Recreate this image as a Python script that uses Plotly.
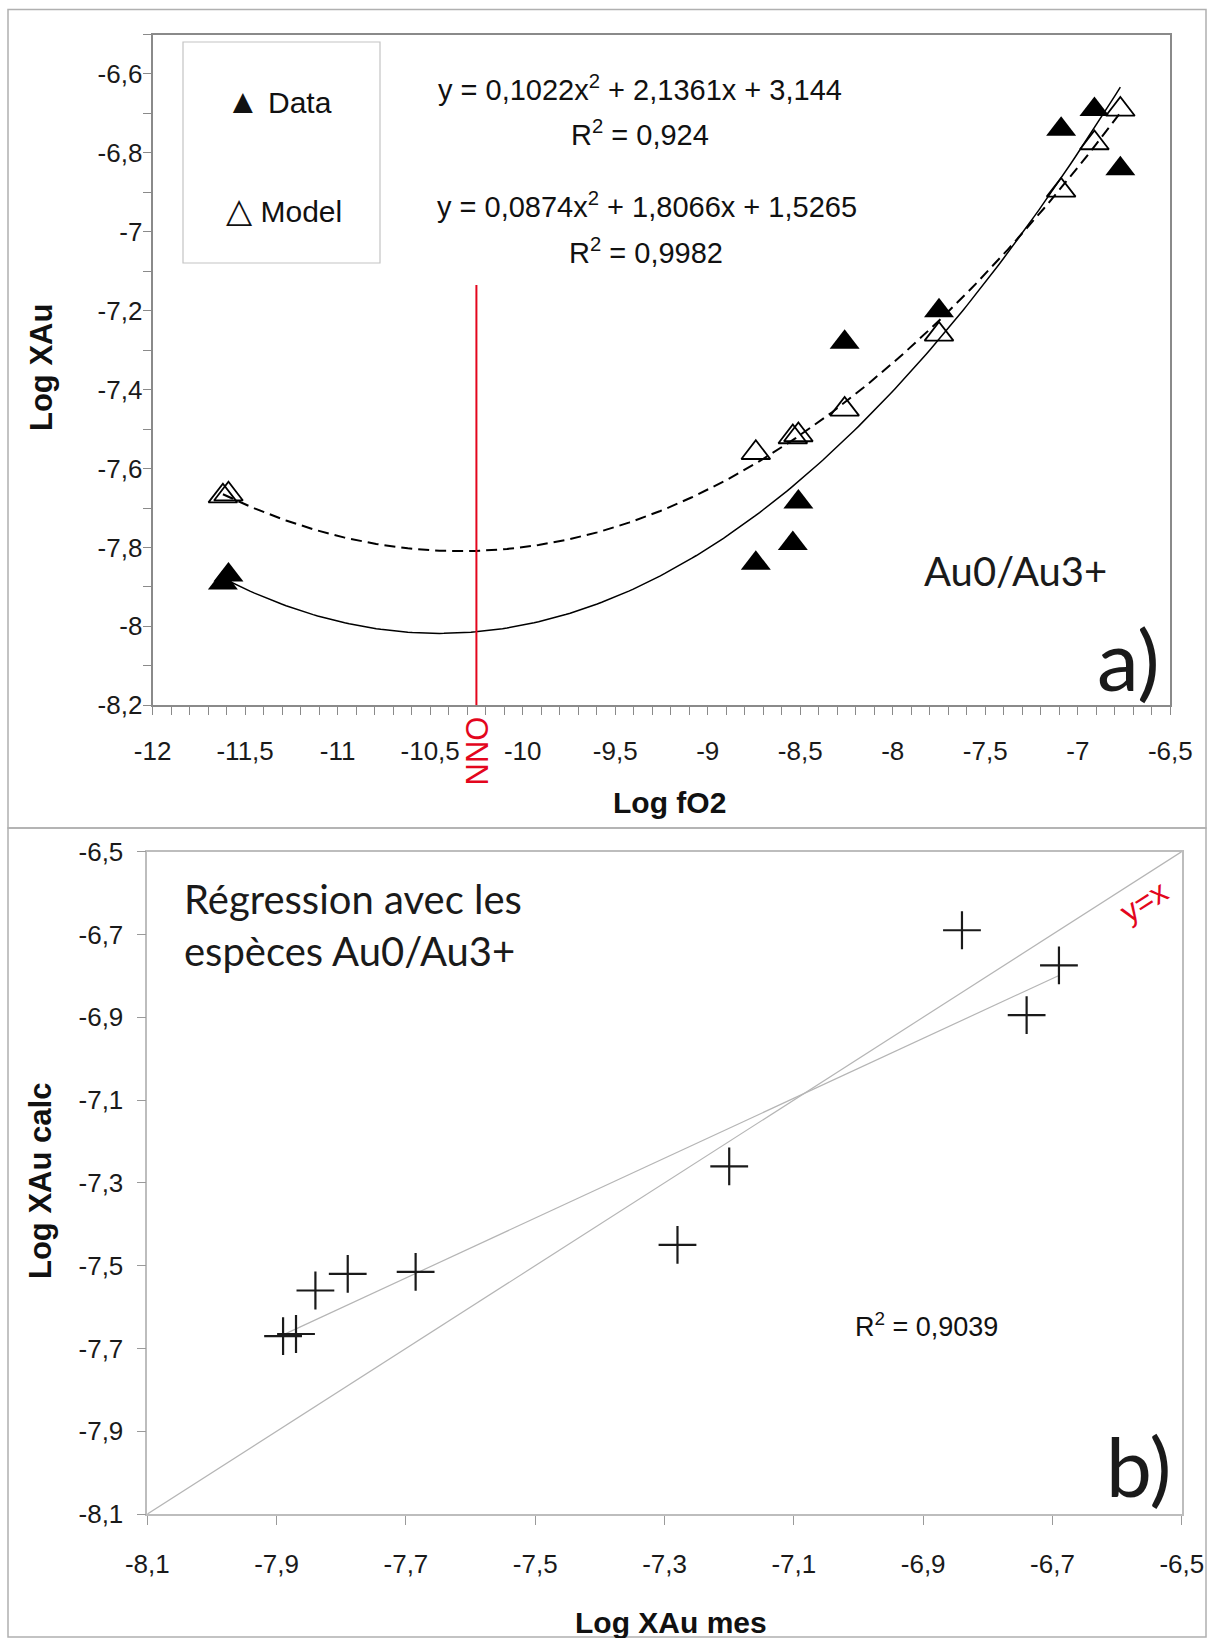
import numpy as np
import plotly.graph_objects as go

W, H = 1210, 1638

# ---------------- data (panel a) ----------------
log_fO2 = [-11.62, -11.59, -8.74, -8.54, -8.51, -8.26, -7.75, -7.09, -6.91, -6.77]
logXAu_data = [-7.89, -7.87, -7.84, -7.79, -7.685, -7.28, -7.20, -6.74, -6.69, -6.84]
logXAu_model = [-7.67, -7.665, -7.56, -7.52, -7.515, -7.45, -7.26, -6.895, -6.775, -6.69]

fit_data_coef = [0.1022, 2.1361, 3.144]
fit_model_coef = [0.0874, 1.8066, 1.5265]
fit_data_label = "y = 0,1022x<sup>2</sup> + 2,1361x + 3,144"
fit_data_r2 = "R<sup>2</sup> = 0,924"
fit_model_label = "y = 0,0874x<sup>2</sup> + 1,8066x + 1,5265"
fit_model_r2 = "R<sup>2</sup> = 0,9982"

NNO_x = -10.25
NNO_top = -7.135

a_xticks = [-12, -11.5, -11, -10.5, -10, -9.5, -9, -8.5, -8, -7.5, -7, -6.5]
a_xticklabels = ["-12", "-11,5", "-11", "-10,5", "-10", "-9,5", "-9", "-8,5", "-8", "-7,5", "-7", "-6,5"]
a_yticks = [-8.2, -8.0, -7.8, -7.6, -7.4, -7.2, -7.0, -6.8, -6.6]
a_yticklabels = ["-8,2", "-8", "-7,8", "-7,6", "-7,4", "-7,2", "-7", "-6,8", "-6,6"]

# ---------------- data (panel b) ----------------
b_mes = logXAu_data
b_calc = logXAu_model
b_r2 = "R<sup>2</sup> = 0,9039"
b_ticks = [-8.1, -7.9, -7.7, -7.5, -7.3, -7.1, -6.9, -6.7, -6.5]
b_ticklabels = ["-8,1", "-7,9", "-7,7", "-7,5", "-7,3", "-7,1", "-6,9", "-6,7", "-6,5"]

# ---------------- helpers ----------------
def px(x):
    return x / W

def py(y):
    return 1 - y / H

NUM_FONT = "Liberation Sans, Arial, DejaVu Sans, sans-serif"
MYR_FONT = "Lato, Open Sans, sans-serif"
RED = "#e3061d"
TICK_SIZE = 26

fig = go.Figure()

# trend curves panel a
xs = np.linspace(min(log_fO2), max(log_fO2), 200)
fig.add_trace(go.Scatter(x=xs, y=np.polyval(fit_data_coef, xs), mode="lines",
                         line=dict(color="black", width=1.5), xaxis="x", yaxis="y",
                         showlegend=False, hoverinfo="skip"))
fig.add_trace(go.Scatter(x=xs, y=np.polyval(fit_model_coef, xs), mode="lines",
                         line=dict(color="black", width=2, dash="11px,6px"), xaxis="x", yaxis="y",
                         showlegend=False, hoverinfo="skip"))
# points panel a
fig.add_trace(go.Scatter(x=log_fO2, y=logXAu_model, mode="markers", name="Model",
                         marker=dict(symbol="triangle-up-open", size=25, color="black",
                                     line=dict(width=1.8, color="black")),
                         xaxis="x", yaxis="y", showlegend=False))
fig.add_trace(go.Scatter(x=log_fO2, y=logXAu_data, mode="markers", name="Data",
                         marker=dict(symbol="triangle-up", size=26, color="black",
                                     line=dict(width=0)),
                         xaxis="x", yaxis="y", showlegend=False))

# panel b: y=x and regression
yx = [b_ticks[0], b_ticks[-1]]
fig.add_trace(go.Scatter(x=yx, y=yx, mode="lines", line=dict(color="#b5b5b5", width=1.2),
                         xaxis="x2", yaxis="y2", showlegend=False, hoverinfo="skip"))
slope, icpt = np.polyfit(b_mes, b_calc, 1)
xr = np.array([min(b_mes), max(b_mes)])
fig.add_trace(go.Scatter(x=xr, y=slope * xr + icpt, mode="lines", line=dict(color="#b5b5b5", width=1.2),
                         xaxis="x2", yaxis="y2", showlegend=False, hoverinfo="skip"))
fig.add_trace(go.Scatter(x=b_mes, y=b_calc, mode="markers",
                         marker=dict(symbol="cross-thin-open", size=27, color="#1a1a1a",
                                     line=dict(width=2.2, color="#1a1a1a")),
                         xaxis="x2", yaxis="y2", showlegend=False))

axis_common = dict(showgrid=False, zeroline=False, ticks="outside", showline=True, mirror=True)

fig.update_layout(
    width=W, height=H, margin=dict(l=0, r=0, t=0, b=0),
    paper_bgcolor="white", plot_bgcolor="white", showlegend=False,
    separators=", ",
    xaxis=dict(domain=[px(152.6), px(1170.3)], range=[-12, -6.5], anchor="y",
               tickvals=a_xticks, ticktext=a_xticklabels,
               linecolor="#8a8a8a", linewidth=2, tickcolor="#8a8a8a", ticklen=8, tickwidth=1,
               minor=dict(tick0=-12, dtick=0.1, ticks="outside", ticklen=8, tickcolor="#8a8a8a"),
               tickfont=dict(family=NUM_FONT, size=TICK_SIZE, color="#1a1a1a"), ticklabelstandoff=13,
               automargin=False, **axis_common),
    yaxis=dict(domain=[py(705.3), py(34.5)], range=[-8.2, -6.5], anchor="x",
               tickvals=a_yticks, ticktext=a_yticklabels,
               linecolor="#8a8a8a", linewidth=2, tickcolor="#8a8a8a", ticklen=8, tickwidth=1,
               minor=dict(tick0=-8.2, dtick=0.1, ticks="outside", ticklen=8, tickcolor="#8a8a8a"),
               tickfont=dict(family=NUM_FONT, size=TICK_SIZE, color="#1a1a1a"), ticklabelstandoff=-5,
               automargin=False, **axis_common),
    xaxis2=dict(domain=[px(147.3), px(1181.8)], range=[-8.1, -6.5], anchor="y2",
                tickvals=b_ticks, ticktext=b_ticklabels,
                linecolor="#bdbdbd", linewidth=1.5, tickcolor="#9a9a9a", ticklen=9, tickwidth=1,
                tickfont=dict(family=NUM_FONT, size=TICK_SIZE, color="#1a1a1a"), ticklabelstandoff=17,
                automargin=False, **axis_common),
    yaxis2=dict(domain=[py(1514.1), py(851.6)], range=[-8.1, -6.5], anchor="x2",
                tickvals=b_ticks, ticktext=b_ticklabels,
                linecolor="#bdbdbd", linewidth=1.5, tickcolor="#9a9a9a", ticklen=9, tickwidth=1,
                tickfont=dict(family=NUM_FONT, size=TICK_SIZE, color="#1a1a1a"), ticklabelstandoff=8,
                automargin=False, **axis_common),
)

shapes = [
    # outer frames
    dict(type="rect", xref="paper", yref="paper", x0=px(8), x1=px(1206), y0=py(828), y1=py(9.5),
         line=dict(color="#b0b0b0", width=1.5), fillcolor="rgba(0,0,0,0)", layer="below"),
    dict(type="rect", xref="paper", yref="paper", x0=px(8), x1=px(1206), y0=py(1637), y1=py(828),
         line=dict(color="#b0b0b0", width=1.5), fillcolor="rgba(0,0,0,0)", layer="below"),
    # legend box
    dict(type="rect", xref="paper", yref="paper", x0=px(183), x1=px(380), y0=py(263), y1=py(42),
         line=dict(color="#c4c4c4", width=1.2), fillcolor="white"),
    # NNO line
    dict(type="line", xref="x", yref="y", x0=NNO_x, x1=NNO_x, y0=-8.2, y1=NNO_top,
         line=dict(color=RED, width=2)),
]
fig.update_layout(shapes=shapes)

def ann(text, x, y, size, family=NUM_FONT, color="#111", xanchor="center", angle=0, bold=False):
    if bold:
        text = "<b>" + text + "</b>"
    return dict(text=text, x=px(x), y=py(y), xref="paper", yref="paper", showarrow=False,
                xanchor=xanchor, yanchor="middle", textangle=angle,
                font=dict(family=family, size=size, color=color))

annotations = [
    ann('<span style="font-size:34px">▲</span> Data', 224, 101, 30, xanchor="left"),
    ann('<span style="font-size:34px">△</span> Model', 224, 210, 30, xanchor="left"),
    ann(fit_data_label, 640, 88, 29),
    ann(fit_data_r2, 640, 133, 29),
    ann(fit_model_label, 647, 205, 29),
    ann(fit_model_r2, 646, 251, 29),
    ann("Au0/Au3+", 1015, 571, 40, family=MYR_FONT, color="#1a1a1a"),
    ann("a)", 1128, 658, 84, family=MYR_FONT, color="#1a1a1a"),
    ann("NNO", 477.5, 751, 31, color=RED, angle=-90),
    ann("Log XAu", 42, 368, 31, bold=True, angle=-90),
    ann("Log fO2", 669, 802, 30, bold=True),
    ann("Régression avec les", 182, 899, 40, family=MYR_FONT, color="#1a1a1a", xanchor="left"),
    ann("espèces Au0/Au3+", 182, 951, 40, family=MYR_FONT, color="#1a1a1a", xanchor="left"),
    ann("y=x", 1144, 901, 31, color=RED, angle=-32.6),
    ann(b_r2, 926, 1325, 27),
    ann("b)", 1138, 1465, 82, family=MYR_FONT, color="#1a1a1a"),
    ann("Log XAu calc", 40, 1181, 31, bold=True, angle=-90),
    ann("Log XAu mes", 671, 1622, 30, bold=True),
]
fig.update_layout(annotations=annotations)

fig.write_html("out.html", config={"displayModeBar": False},
               post_script="document.body.style.margin='0px';document.body.style.overflow='hidden';")
